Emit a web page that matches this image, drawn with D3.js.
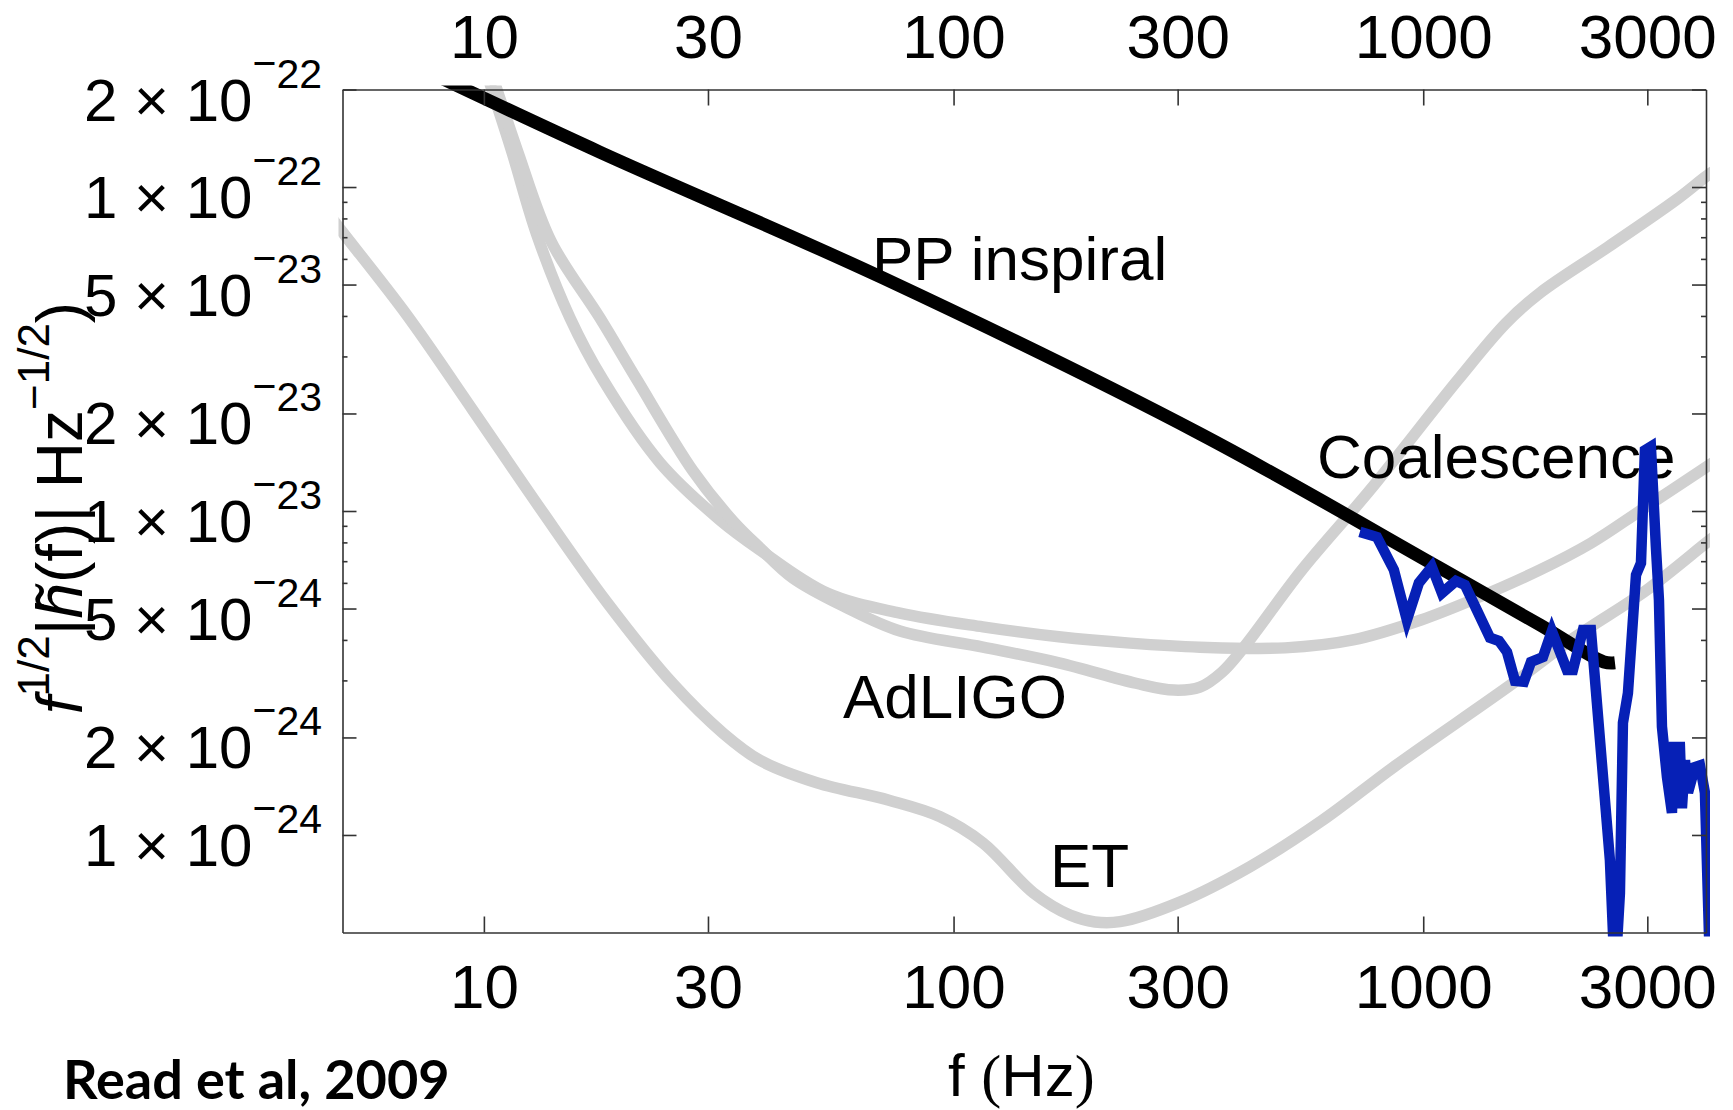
<!DOCTYPE html>
<html>
<head>
<meta charset="utf-8">
<script src="https://cdn.jsdelivr.net/npm/d3@7"></script>
<style>
  html, body { margin: 0; padding: 0; background: #fff; }
  svg { display: block; }
</style>
</head>
<body>
<svg id="chart" width="1733" height="1110"></svg>
<script>
// values: [frequency (Hz), f^1/2 |h(f)| (Hz^-1/2)]
const ppInspiral = [
  [8.0, 2.19e-22], [17.7, 1.28e-22], [70.7, 5.24e-23], [335, 1.73e-23],
  [1075, 6.72e-24], [1772, 4.45e-24], [2425, 3.42e-24], [2560, 3.40e-24]
];

const coalescence = [
  [733, 8.62e-24], [797, 8.31e-24], [866, 6.58e-24], [923, 4.61e-24], [979, 6.00e-24],
  [1043, 6.72e-24], [1096, 5.58e-24], [1174, 6.08e-24], [1227, 5.91e-24], [1387, 4.06e-24],
  [1450, 3.97e-24], [1508, 3.67e-24], [1568, 2.99e-24], [1638, 2.97e-24], [1696, 3.42e-24],
  [1798, 3.54e-24], [1879, 4.26e-24], [2023, 3.23e-24], [2083, 3.23e-24], [2188, 4.29e-24],
  [2275, 4.29e-24], [2343, 2.56e-24], [2497, 8.38e-25], [2560, 3.57e-25], [2623, 6.62e-25],
  [2662, 2.22e-24], [2728, 2.74e-24], [2838, 6.35e-24], [2908, 6.91e-24], [2965, 1.54e-23],
  [3053, 1.58e-23], [3129, 7.74e-24], [3176, 5.31e-24], [3223, 2.16e-24], [3303, 1.51e-24],
  [3385, 1.17e-24], [3418, 1.87e-24], [3520, 1.87e-24], [3555, 1.21e-24], [3608, 1.70e-24],
  [3662, 1.35e-24], [3789, 1.62e-24], [3883, 1.64e-24], [3979, 1.35e-24], [4058, 4.98e-25],
  [4120, 3.0e-25]
];

// AdLIGO, flatter curve
const adLigoBroad = [
  [9.62, 2.84e-22], [10.40, 2.0e-22], [11.48, 1.28e-22], [12.97, 7.11e-23], [15.26, 3.94e-23],
  [17.93, 2.54e-23], [23.71, 1.41e-23], [31.82, 9.38e-24], [38.71, 7.58e-24], [53.8, 5.58e-24],
  [76.9, 4.84e-24], [115.5, 4.39e-24], [167.6, 4.09e-24], [237.5, 3.91e-24], [334.6, 3.80e-24],
  [507.6, 3.78e-24], [708.6, 4.00e-24], [988.8, 4.61e-24], [1270, 5.31e-24], [1772, 6.58e-24],
  [2276, 7.96e-24], [2922, 1.01e-23], [4078, 1.39e-23], [4300, 1.46e-23]
];

// AdLIGO, curve with the dip near 300 Hz
const adLigoDip = [
  [9.86, 2.84e-22], [10.66, 2.0e-22], [11.82, 1.28e-22], [13.9, 6.8e-23], [17.67, 3.94e-23],
  [21.18, 2.54e-23], [27.87, 1.33e-23], [33.91, 9.31e-24], [38.71, 7.69e-24], [45.5, 6.21e-24],
  [58.7, 5.06e-24], [76.9, 4.26e-24], [115.5, 3.80e-24], [167.6, 3.40e-24], [244.6, 2.94e-24],
  [294.6, 2.80e-24], [334.6, 2.86e-24], [372.8, 3.18e-24], [415.3, 3.80e-24], [551.8, 6.58e-24],
  [770.1, 1.16e-23], [1185, 2.54e-23], [1500, 3.80e-23], [1772, 4.71e-23], [2474, 6.53e-23],
  [3451, 9.12e-23], [4078, 1.10e-22], [4300, 1.15e-22]
];

const etCurve = [
  [4.70, 8.17e-23], [5.0, 7.26e-23], [6.85, 4.03e-23], [9.49, 2.04e-23], [13.17, 1.02e-23],
  [18.26, 5.24e-24], [25.31, 2.92e-24], [32.33, 2.06e-24], [38.71, 1.70e-24], [51.15, 1.45e-24],
  [72.87, 1.28e-24], [93.4, 1.14e-24], [115.5, 9.45e-25], [148.0, 6.62e-25], [176.9, 5.66e-25],
  [200.0, 5.39e-25], [226.1, 5.40e-25], [300.5, 6.17e-25], [427.7, 7.98e-25], [610.2, 1.11e-24],
  [869.7, 1.63e-24], [1552, 2.94e-24], [2094, 4.06e-24], [2995, 5.71e-24], [4078, 8.14e-24],
  [4300, 8.6e-24]
];

const xTicks = [10, 30, 100, 300, 1000, 3000];
const yMajorTicks = [2e-22, 1e-22, 5e-23, 2e-23, 1e-23, 5e-24, 2e-24, 1e-24];
const yTickMantissas = ["2", "1", "5", "2", "1", "5", "2", "1"];
const yTickExponents = ["22", "22", "23", "23", "23", "24", "24", "24"];
const yMinorTicks = [9e-23, 8e-23, 7e-23, 6e-23, 4e-23, 3e-23, 9e-24, 8e-24, 7e-24, 6e-24, 4e-24, 3e-24];

const FONT = "'Liberation Sans', Arial, Helvetica, sans-serif";
const svg = d3.select("#chart");

const pLeft = 342.5, pRight = 1706, pTop = 89.5, pBottom = 932.5;

const x = d3.scaleLog().domain([5, 4000]).range([pLeft, pRight]);
const y = d3.scaleLog().domain([5e-25, 2e-22]).range([pBottom, pTop]);

svg.append("defs").append("clipPath").attr("id", "plot-clip")
  .append("rect")
  .attr("x", pLeft - 4).attr("y", pTop - 4)
  .attr("width", pRight - pLeft + 8).attr("height", pBottom - pTop + 8);

const line = d3.line().x(d => x(d[0])).y(d => y(d[1]));
const smooth = d3.line().x(d => x(d[0])).y(d => y(d[1])).curve(d3.curveCatmullRom.alpha(0.5));

const plot = svg.append("g").attr("clip-path", "url(#plot-clip)");

// detector noise curves
[adLigoBroad, adLigoDip, etCurve].forEach(s => {
  plot.append("path").datum(s)
    .attr("d", smooth)
    .attr("fill", "none")
    .attr("stroke", "#d0d0d0")
    .attr("stroke-width", 11.5)
    .attr("stroke-linejoin", "round");
});

plot.append("path").datum(ppInspiral)
  .attr("d", smooth)
  .attr("fill", "none")
  .attr("stroke", "#000")
  .attr("stroke-width", 13)
  .attr("stroke-linejoin", "miter");

// annotations
const notes = svg.append("g").attr("font-family", FONT).attr("font-size", 62).attr("fill", "#000");
notes.append("text").attr("x", 872).attr("y", 280).text("PP inspiral");
notes.append("text").attr("x", 1317).attr("y", 478).text("Coalescence");
notes.append("text").attr("x", 843).attr("y", 718).text("AdLIGO");
notes.append("text").attr("x", 1050).attr("y", 887).text("ET");

const blue = svg.append("g").attr("clip-path", "url(#plot-clip)");
blue.append("path").datum(coalescence)
  .attr("d", line)
  .attr("fill", "none")
  .attr("stroke", "#0620b6")
  .attr("stroke-width", 10.5)
  .attr("stroke-linejoin", "miter")
  .attr("stroke-miterlimit", 4);

// frame + ticks
function styleAxis(g) {
  g.attr("font-family", FONT);
  g.select(".domain").attr("stroke", "#333").attr("stroke-width", 1.6);
  g.selectAll(".tick line").attr("stroke", "#333").attr("stroke-width", 1.6);
  g.selectAll(".tick text").attr("fill", "#000").attr("font-size", 62);
}

svg.append("g")
  .attr("transform", `translate(0,${pBottom})`)
  .call(d3.axisBottom(x).tickValues(xTicks).tickFormat(d3.format("d"))
    .tickSizeInner(-16).tickSizeOuter(0).tickPadding(31))
  .call(styleAxis);

svg.append("g")
  .attr("transform", `translate(0,${pTop})`)
  .call(d3.axisTop(x).tickValues(xTicks).tickFormat(d3.format("d"))
    .tickSizeInner(-16).tickSizeOuter(0).tickPadding(31.5))
  .call(styleAxis);

svg.append("g")
  .attr("transform", `translate(${pLeft},0)`)
  .call(d3.axisLeft(y).tickValues(yMajorTicks).tickFormat("").tickSizeInner(-14).tickSizeOuter(0))
  .call(styleAxis);

svg.append("g")
  .attr("transform", `translate(${pLeft},0)`)
  .call(d3.axisLeft(y).tickValues(yMinorTicks).tickFormat("").tickSizeInner(-5).tickSizeOuter(0))
  .call(styleAxis)
  .call(g => g.select(".domain").remove());

svg.append("g")
  .attr("transform", `translate(${pRight},0)`)
  .call(d3.axisRight(y).tickValues(yMajorTicks).tickFormat("").tickSizeInner(-14).tickSizeOuter(0))
  .call(styleAxis);

svg.append("g")
  .attr("transform", `translate(${pRight},0)`)
  .call(d3.axisRight(y).tickValues(yMinorTicks).tickFormat("").tickSizeInner(-5).tickSizeOuter(0))
  .call(styleAxis)
  .call(g => g.select(".domain").remove());

// y tick labels, m × 10^-e
const yLab = svg.append("g").attr("font-family", FONT).attr("fill", "#000");
yMajorTicks.forEach((v, i) => {
  const t = yLab.append("text")
    .attr("x", 322).attr("y", y(v) + 31)
    .attr("text-anchor", "end").attr("font-size", 60);
  t.append("tspan").text(`${yTickMantissas[i]} × 10`);
  t.append("tspan").attr("font-size", 41).attr("dy", -44).text("\u2212");
  t.append("tspan").attr("font-size", 41).attr("dy", 11).text(yTickExponents[i]);
});

// axis titles
const yt = svg.append("text")
  .attr("transform", "translate(82,508) rotate(-90)")
  .attr("text-anchor", "middle")
  .attr("font-family", FONT).attr("font-size", 64).attr("fill", "#000");
yt.append("tspan").attr("font-style", "italic").text("f");
yt.append("tspan").attr("font-size", 44).attr("dy", -33).text("1/2");
yt.append("tspan").attr("dy", 33).text("|");
yt.append("tspan").attr("font-style", "italic").text("h\u0303");
yt.append("tspan").text("(f)| Hz");
yt.append("tspan").attr("font-size", 44).attr("dy", -33).text("\u22121/2");
yt.append("tspan").attr("dy", 33).text(")");

const xt = svg.append("text")
  .attr("x", 948).attr("y", 1096)
  .attr("font-family", FONT).attr("font-size", 60).attr("fill", "#000");
xt.append("tspan").text("f ");
xt.append("tspan").attr("font-family", "'Liberation Serif', serif").text("(");
xt.append("tspan").text("Hz");
xt.append("tspan").attr("font-family", "'Liberation Serif', serif").text(")");

svg.append("text")
  .attr("x", 63).attr("y", 1099)
  .attr("font-family", "Lato, 'Open Sans', sans-serif")
  .attr("font-weight", "bold").attr("font-size", 54).attr("fill", "#000")
  .text("Read et al, 2009");
</script>
</body>
</html>
